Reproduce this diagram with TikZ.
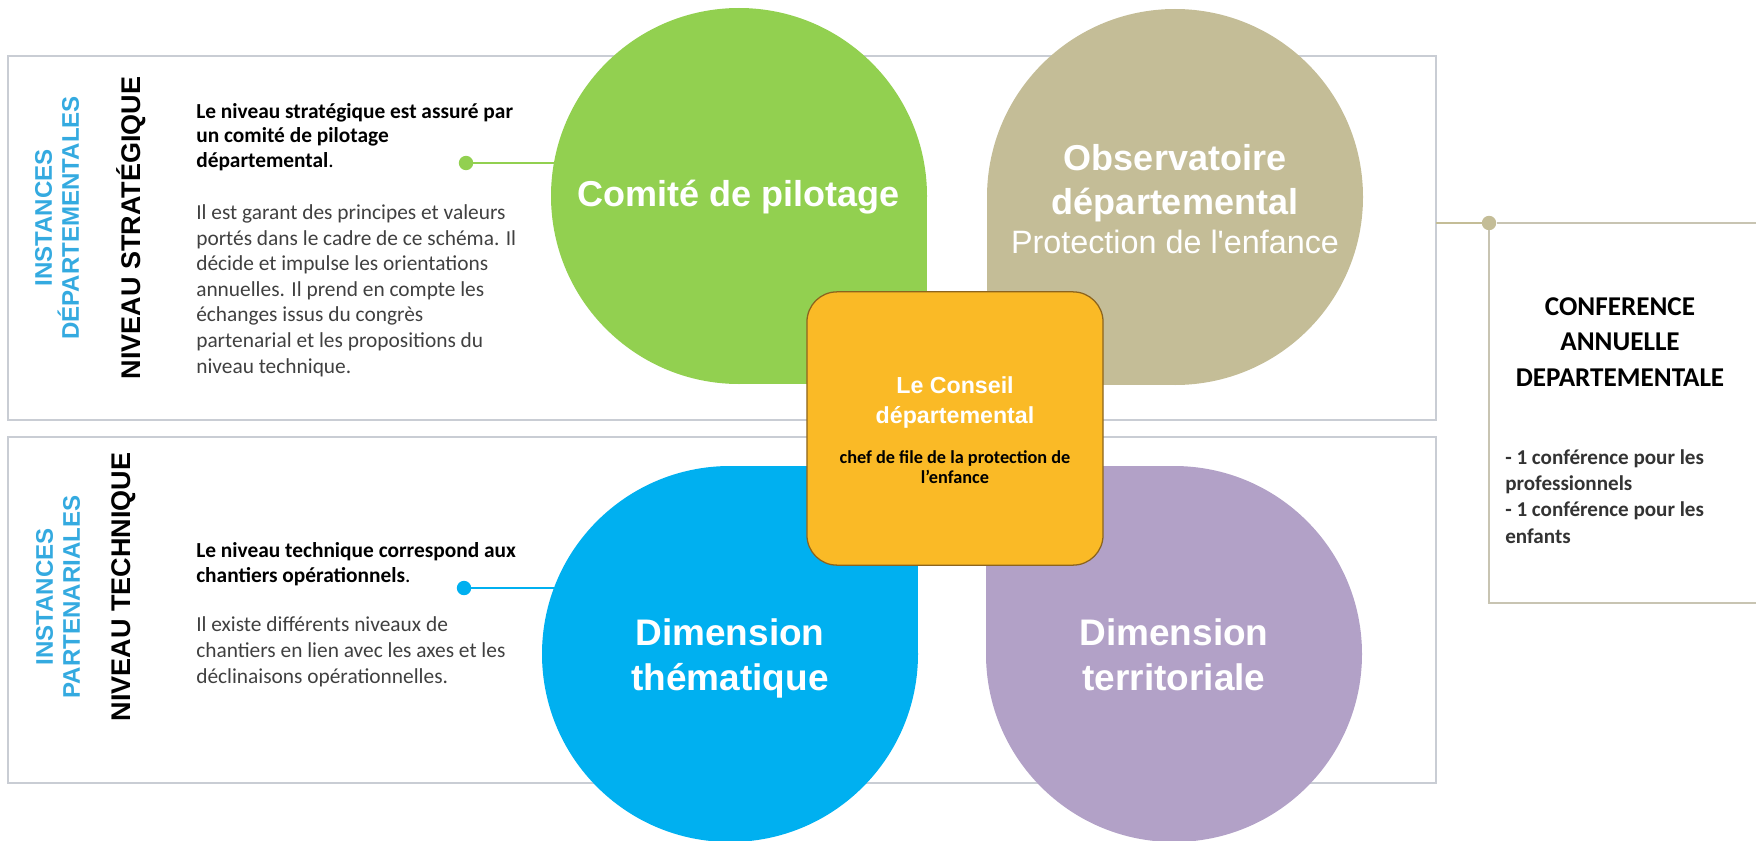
\documentclass[tikz,border=0pt]{standalone}
\usepackage{fontspec}
\setmainfont{Liberation Sans}
\newfontfamily\calibri{Carlito}
\usepackage{xcolor}
\definecolor{Pilotage}{RGB}{146,208,80}
\definecolor{Observatoire}{RGB}{196,189,151}
\definecolor{Thematique}{RGB}{0,176,240}
\definecolor{Territoriale}{RGB}{178,161,199}
\definecolor{Conseil}{RGB}{250,186,38}
\definecolor{Conseil border}{RGB}{140,100,30}
\definecolor{Instances}{RGB}{52,170,224}
\definecolor{Panel}{RGB}{201,205,212}
\definecolor{Conference}{RGB}{200,196,178}
\definecolor{Body}{RGB}{64,64,64}

\begin{document}
\begin{tikzpicture}[x=0.025cm, y=-0.025cm,
  panel/.style={draw=Panel, line width=1.1pt},
  dot/.style={circle, inner sep=0pt, minimum size=0.36cm},
  link/.style={line width=2pt},
  confbox/.style={draw=Conference, line width=1.3pt},
  title/.style={anchor=base, align=center, text=white, font=\bfseries\fontsize{25.6}{30.6}\selectfont},
  instances/.style={rotate=90, align=center, text=Instances, font=\bfseries\fontsize{17.1}{19.2}\selectfont},
  niveau/.style={rotate=90, font=\bfseries\fontsize{19.2}{23}\selectfont},
  para/.style={anchor=base west, inner sep=0pt, align=left, text=Body, font=\calibri\fontsize{15.2}{18.2}\selectfont},
  parab/.style={para, text=black, font=\calibri\bfseries\fontsize{15.2}{17.4}\selectfont}]
\useasboundingbox (0,0) rectangle (1756,841);

% Panels
\draw[panel] (8,56) rectangle (1436,420);
\draw[panel] (8,437) rectangle (1436,783);

% Centres
\coordinate (pilotage) at (739,196);
\coordinate (observatoire) at (1175,197);
\coordinate (thematique) at (730,654);
\coordinate (territoriale) at (1174,654);

% Links
\node[dot, fill=Pilotage] (pdot) at (466,163) {};
\draw[link, Pilotage] (pdot) -- (pdot -| pilotage);
\node[dot, fill=Thematique] (tdot) at (464,588) {};
\draw[link, Thematique] (tdot) -- (tdot -| thematique);

\coordinate (olink) at (1436,223);
\coordinate (cbr) at (1756,603);
\node[dot, fill=Observatoire] (odot) at (1489,223) {};
\draw[link, Observatoire] (olink) -- (odot);
\draw[confbox] (odot) -- (odot -| cbr);
\draw[confbox] (odot) -- (odot |- cbr) -- (cbr);

% Leaves
\fill[Pilotage] (pilotage) circle (188);
\fill[Pilotage] (pilotage) rectangle ++(188,188);
\fill[Observatoire] (observatoire) circle (188);
\fill[Observatoire] (observatoire) rectangle ++(-188,188);
\fill[Thematique] (thematique) circle (188);
\fill[Thematique] (thematique) rectangle ++(188,-188);
\fill[Territoriale] (territoriale) circle (188);
\fill[Territoriale] (territoriale) rectangle ++(-188,-188);

% Conseil
\node[draw=Conseil border, fill=Conseil, line width=0.9pt, rounded corners=0.75cm,
  minimum width=7.4cm, minimum height=6.83cm] (conseil) at (955,428.5) {};
% (base = last line)
\node[anchor=base, align=center, text=white, font=\bfseries\fontsize{16.5}{21.3}\selectfont] (conseil_t) at (955,423) {Le Conseil\\ départemental};
\node[anchor=base, align=center, font=\calibri\bfseries\fontsize{13}{14.2}\selectfont] (conseil_r) at (955,483) {chef de file de la protection de\\ l’enfance};

% Leaf labels
\node[title] (pilotage_l) at (739,206) {Comité de pilotage};
\node[title] (observatoire_l) at (1175,214) {Observatoire\\ départemental};
\node[anchor=base, text=white, font=\fontsize{23}{26}\selectfont] (observatoire_s) at (1175,253) {Protection de l\textquotesingle enfance};
\node[title, font=\bfseries\fontsize{26.3}{31.3}\selectfont] (thematique_l) at (730,690) {Dimension\\ thématique};
\node[title, font=\bfseries\fontsize{26.3}{31.3}\selectfont] (territoriale_l) at (1174,690) {Dimension\\ territoriale};

% Left side
\node[instances] (inst_d) at (57,218) {INSTANCES\\ DÉPARTEMENTALES};
\node[niveau] (niv_s) at (131,228) {NIVEAU STRATÉGIQUE};
\node[instances] (inst_p) at (58,597) {INSTANCES\\ PARTENARIALES};
\node[niveau] (niv_t) at (124,587) {NIVEAU TECHNIQUE};

\node[parab] (strat_b) at (196,167) {Le niveau stratégique est assuré par\\ un comité de pilotage\\ départemental{\mdseries .}};
\node[para] (strat_t) at (196,373) {Il est garant des principes et valeurs\\ portés dans le cadre de ce schéma. Il\\ décide et impulse les orientations\\ annuelles. Il prend en compte les\\ échanges issus du congrès\\ partenarial et les propositions du\\ niveau technique.};
\node[parab] (tech_b) at (196,582) {Le niveau technique correspond aux\\ chantiers opérationnels{\mdseries .}};
\node[para] (tech_t) at (196,683) {Il existe différents niveaux de\\ chantiers en lien avec les axes et les\\ déclinaisons opérationnelles.};

% Conference
\node[anchor=base, align=center, font=\calibri\bfseries\fontsize{19.3}{24.9}\selectfont] (conf_t) at (1620,386) {CONFERENCE\\ ANNUELLE\\ DEPARTEMENTALE};
\node[para, text=black!80, font=\calibri\bfseries\fontsize{15}{18.5}\selectfont] (conf_l) at (1505,543) {- 1 conférence pour les\\ professionnels\\ - 1 conférence pour les\\ enfants};

\end{tikzpicture}
\end{document}
